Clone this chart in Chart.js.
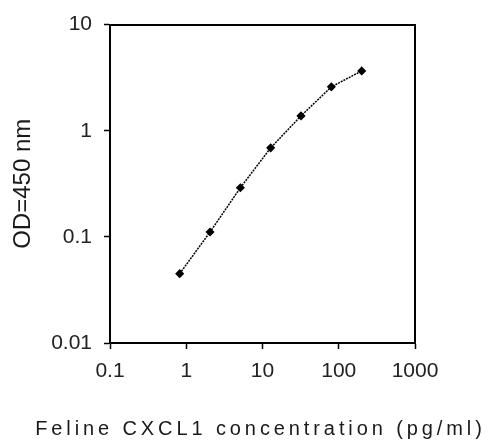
<!DOCTYPE html>
<html>
<head>
<meta charset="utf-8">
<script src="https://cdn.jsdelivr.net/npm/chart.js@4.4.1/dist/chart.umd.min.js"></script>
<style>
  html, body { margin: 0; padding: 0; background: #fff; }
  #wrap { width: 492px; height: 447px; }
</style>
</head>
<body>
<div id="wrap"><canvas id="curve"></canvas></div>
<script>
// standard curve values
const concentration = [0.82, 2.05, 5.12, 12.8, 32, 80, 200];
const od450 = [0.045, 0.111, 0.29, 0.69, 1.38, 2.59, 3.66];

const xTickValues = [0.1, 1, 10, 100, 1000];
const xTickLabels = ['0.1', '1', '10', '100', '1000'];
const yTickValues = [0.01, 0.1, 1, 10];
const yTickLabels = ['0.01', '0.1', '1', '10'];

const xTitle = 'Feline CXCL1 concentration (pg/ml)';

// the x title in the picture is letter-spaced, canvas here has no letterSpacing
// so draw it char by char
const spacedTitle = {
    id: 'spacedTitle',
    afterDraw(chart) {
        const c = chart.ctx;
        const area = chart.chartArea;
        const gap = 3.9;
        c.save();
        c.font = '20px "Liberation Sans", Arial, sans-serif';
        c.fillStyle = '#1a1a1a';
        c.textBaseline = 'middle';
        c.textAlign = 'left';
        const chars = xTitle.split('');
        let total = 0;
        chars.forEach(ch => { total += c.measureText(ch).width; });
        total += gap * (chars.length - 1);
        let x = (area.left + area.right) / 2 - 4 - total / 2;
        chars.forEach(ch => {
            c.fillText(ch, x, 429);
            x += c.measureText(ch).width + gap;
        });
        c.restore();
    }
};

const tickFont = { family: 'Liberation Sans', size: 21 };

const ctx = document.getElementById('curve').getContext('2d');
const chart = new Chart(ctx, {
    type: 'scatter',
    data: {
        datasets: [{
            data: concentration.map((c, i) => ({ x: c, y: od450[i] })),
            showLine: true,
            borderColor: '#000',
            borderWidth: 1.5,
            borderDash: [2, 1],
            pointBackgroundColor: '#000',
            pointBorderColor: '#000',
            pointRadius: 3.5,
            pointStyle: 'rectRot'
        }]
    },
    options: {
        responsive: true,
        maintainAspectRatio: false,
        animation: false,
        layout: { padding: { left: 5, top: 21, right: 77, bottom: 0 } },
        plugins: { legend: { display: false }, tooltip: { enabled: false } },
        scales: {
            x: {
                type: 'logarithmic',
                position: 'bottom',
                min: 0.1,
                max: 1000,
                afterBuildTicks: s => { s.ticks = xTickValues.map(v => ({ value: v })); },
                afterFit: s => { s.height = 104; },
                ticks: {
                    color: '#222',
                    font: tickFont,
                    padding: 10,
                    maxRotation: 0,
                    callback: (v, i) => xTickLabels[i]
                },
                grid: { drawOnChartArea: false, color: '#000', tickLength: 6, tickWidth: 1.5 },
                border: { color: '#000', width: 2 }
            },
            y: {
                type: 'logarithmic',
                position: 'left',
                min: 0.01,
                max: 10,
                afterBuildTicks: s => { s.ticks = yTickValues.map(v => ({ value: v })); },
                afterFit: s => { s.width = 105; },
                ticks: {
                    color: '#222',
                    font: tickFont,
                    padding: 12,
                    callback: (v, i) => yTickLabels[i]
                },
                grid: { drawOnChartArea: false, color: '#000', tickLength: 6, tickWidth: 1.5 },
                border: { color: '#000', width: 2 },
                title: {
                    display: true,
                    text: 'OD=450 nm',
                    color: '#1a1a1a',
                    font: { family: 'Liberation Sans', size: 24 }
                }
            },
            top: {
                type: 'logarithmic',
                position: 'top',
                min: 0.1,
                max: 1000,
                afterFit: s => { s.height = 0; },
                ticks: { display: false },
                grid: { display: false },
                border: { color: '#000', width: 2 }
            },
            right: {
                type: 'logarithmic',
                position: 'right',
                min: 0.01,
                max: 10,
                afterFit: s => { s.width = 0; },
                ticks: { display: false },
                grid: { display: false },
                border: { color: '#000', width: 2 }
            }
        }
    },
    plugins: [spacedTitle]
});
</script>
</body>
</html>
